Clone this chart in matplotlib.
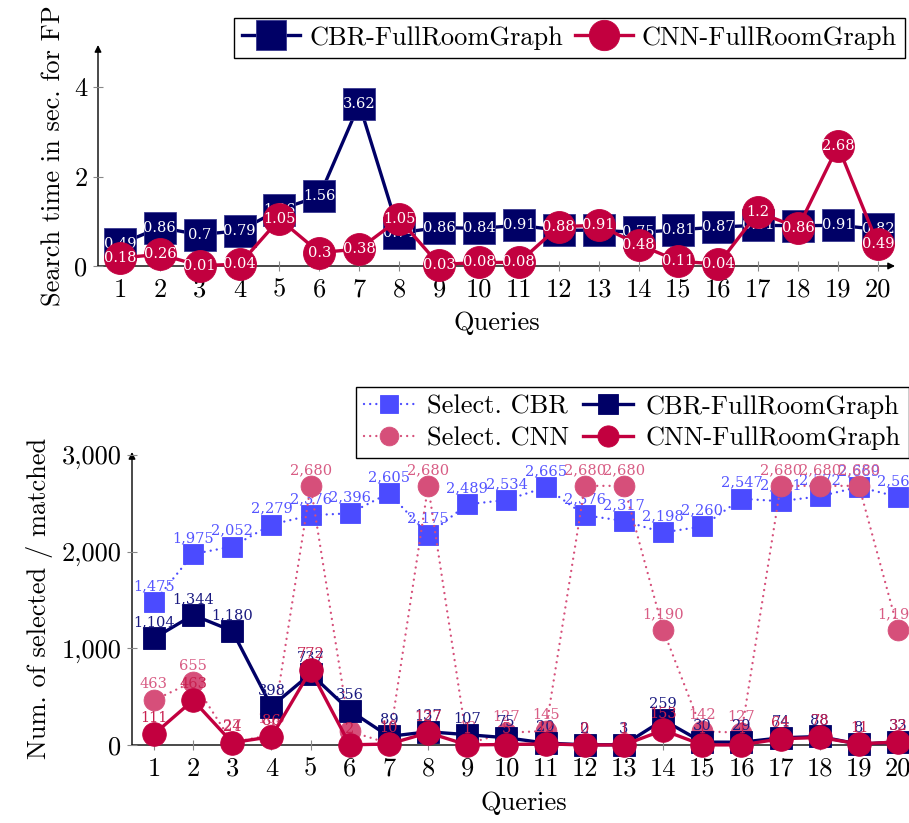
import matplotlib
matplotlib.use("Agg")
import matplotlib.pyplot as plt

plt.rcParams['font.family'] = ['cmr10', 'DejaVu Serif']
plt.rcParams['mathtext.fontset'] = 'cm'
plt.rcParams['axes.formatter.use_mathtext'] = True

queries = list(range(1, 21))
xtick_labels = [str(q) for q in queries]

# Top chart: search time in seconds
cbr_time = [0.49, 0.86, 0.7, 0.79, 1.26, 1.56, 3.62, 0.74, 0.86, 0.84,
            0.91, 0.8, 0.8, 0.75, 0.81, 0.87, 0.91, 0.9, 0.91, 0.82]
cnn_time = [0.18, 0.26, 0.01, 0.04, 1.05, 0.3, 0.38, 1.05, 0.03, 0.08,
            0.08, 0.88, 0.91, 0.48, 0.11, 0.04, 1.2, 0.86, 2.68, 0.49]
top_yticks = [0, 2, 4]

# Bottom chart: number of selected / matched
sel_cbr = [1475, 1975, 2052, 2279, 2376, 2396, 2605, 2175, 2489, 2534,
           2665, 2376, 2317, 2198, 2260, 2547, 2521, 2572, 2669, 2565]
sel_cnn = [463, 655, 27, 105, 2680, 142, 16, 2680, 13, 127,
           145, 2680, 2680, 1190, 142, 127, 2680, 2680, 2680, 1190]
cbr_full = [1104, 1344, 1180, 398, 737, 356, 89, 137, 107, 75,
            20, 2, 3, 259, 30, 29, 74, 88, 8, 33]
cnn_full = [111, 463, 24, 86, 772, 2, 10, 127, 1, 5,
            12, 0, 1, 153, 1, 1, 64, 78, 11, 32]
bot_yticks = [0, 1000, 2000, 3000]
bot_ytick_labels = ['0', '1,000', '2,000', '3,000']

NAVY = '#000066'
CRIMSON = '#c2003f'
BLUE = '#4b4bff'
PINK = '#d64f7a'

LABEL_FONT = ['DejaVu Serif']
FS = 19
LFS = 10.5

fig = plt.figure(figsize=(9.09, 8.23), dpi=100)


def style_axes(ax, xlim, ylim):
    ax.set_xlim(*xlim)
    ax.set_ylim(*ylim)
    for s in ['top', 'right', 'left', 'bottom']:
        ax.spines[s].set_visible(False)
    ax.annotate('', xy=(1, 0), xytext=(0, 0), xycoords='axes fraction',
                arrowprops=dict(arrowstyle='-|>', color='black', lw=1.0,
                                mutation_scale=10, shrinkA=0, shrinkB=0),
                annotation_clip=False, zorder=1)
    ax.annotate('', xy=(0, 1), xytext=(0, 0), xycoords='axes fraction',
                arrowprops=dict(arrowstyle='-|>', color='black', lw=1.0,
                                mutation_scale=10, shrinkA=0, shrinkB=0),
                annotation_clip=False, zorder=1)
    ax.tick_params(axis='both', direction='inout', length=7, width=0.8,
                   color='#888888', labelsize=FS)
    ax.tick_params(axis='x', pad=5)
    ax.tick_params(axis='y', pad=4)
    ax.set_xticks(queries)
    ax.set_xticklabels(xtick_labels)


# ---------------- Top chart ----------------
ax1 = fig.add_axes([98 / 909, 1 - 266 / 823, (895 - 98) / 909, (266 - 45) / 823])
style_axes(ax1, (0.45, 20.43), (0, 4.94))
ax1.set_yticks(top_yticks)
ax1.set_yticklabels([str(v) for v in top_yticks])

ax1.plot(queries, cbr_time, color=NAVY, lw=2.4, marker='s', markersize=23,
         markerfacecolor=NAVY, markeredgecolor='#3a3a90', markeredgewidth=0.6,
         clip_on=False, zorder=3, label='CBR-FullRoomGraph')
for q, v in zip(queries, cbr_time):
    ax1.text(q, v, f'{v:g}', color='white', ha='center', va='center',
             fontsize=LFS, family=LABEL_FONT, zorder=4, clip_on=False)
ax1.plot(queries, cnn_time, color=CRIMSON, lw=2.4, marker='o', markersize=23,
         markerfacecolor=CRIMSON, markeredgecolor=CRIMSON, markeredgewidth=0.6,
         clip_on=False, zorder=5, label='CNN-FullRoomGraph')
for q, v in zip(queries, cnn_time):
    ax1.text(q, v, f'{v:g}', color='white', ha='center', va='center',
             fontsize=LFS, family=LABEL_FONT, zorder=6, clip_on=False)

ax1.set_xlabel('Queries', fontsize=FS, labelpad=7)
ax1.set_ylabel('Search time in sec. for FP', fontsize=FS, labelpad=6)

leg1 = fig.legend(handles=ax1.get_lines()[:2], loc='upper right',
                  bbox_to_anchor=(905 / 909, 1 - 18 / 823), ncol=2,
                  fontsize=FS, frameon=True, fancybox=False, edgecolor='black',
                  framealpha=1, handlelength=2.2, markerscale=0.95,
                  columnspacing=0.45, handletextpad=0.35, borderpad=0.3,
                  borderaxespad=0)
leg1.get_frame().set_linewidth(1.0)

# ---------------- Bottom chart ----------------
ax2 = fig.add_axes([132 / 909, 1 - 745 / 823, (915 - 132) / 909, (745 - 452) / 823])
style_axes(ax2, (0.44, 20.43), (0, 3030))
ax2.set_yticks(bot_yticks)
ax2.set_yticklabels(bot_ytick_labels)

DOT = (0, (0.01, 2.6))
series = [
    (sel_cbr, BLUE, 's', DOT, 1.7, 14, 'Select. CBR', '#5555ff'),
    (sel_cnn, PINK, 'o', DOT, 1.7, 15, 'Select. CNN', '#d85c84'),
    (cbr_full, NAVY, 's', '-', 2.4, 16, 'CBR-FullRoomGraph', '#1a1a80'),
    (cnn_full, CRIMSON, 'o', '-', 2.4, 17, 'CNN-FullRoomGraph', '#c8204f'),
]
handles = []
for i, (vals, col, mk, ls, lw, ms, name, lcol) in enumerate(series):
    ln, = ax2.plot(queries, vals, color=col, lw=lw, linestyle=ls, marker=mk,
                   markersize=ms, markerfacecolor=col, markeredgecolor=col,
                   markeredgewidth=0.6, dash_capstyle='round',
                   clip_on=False, zorder=3 + 2 * i, label=name)
    handles.append(ln)
    for q, v in zip(queries, vals):
        ax2.annotate(f'{v:,}', xy=(q, v), xytext=(0, 11.5),
                     textcoords='offset points', ha='center', va='center',
                     color=lcol, fontsize=LFS, family=LABEL_FONT,
                     zorder=4 + 2 * i, annotation_clip=False)

ax2.set_xlabel('Queries', fontsize=FS, labelpad=8)
ax2.set_ylabel('Num. of selected / matched', fontsize=FS, labelpad=6)

leg2 = fig.legend(handles=handles, loc='upper right',
                  bbox_to_anchor=(909 / 909, 1 - 387 / 823), ncol=2,
                  fontsize=FS, frameon=True, fancybox=False, edgecolor='black',
                  framealpha=1, handlelength=1.9, markerscale=0.9,
                  columnspacing=0.5, handletextpad=0.5, borderpad=0.3,
                  labelspacing=0.3, borderaxespad=0)
leg2.get_frame().set_linewidth(1.0)

fig.savefig('out.png', dpi=100)
